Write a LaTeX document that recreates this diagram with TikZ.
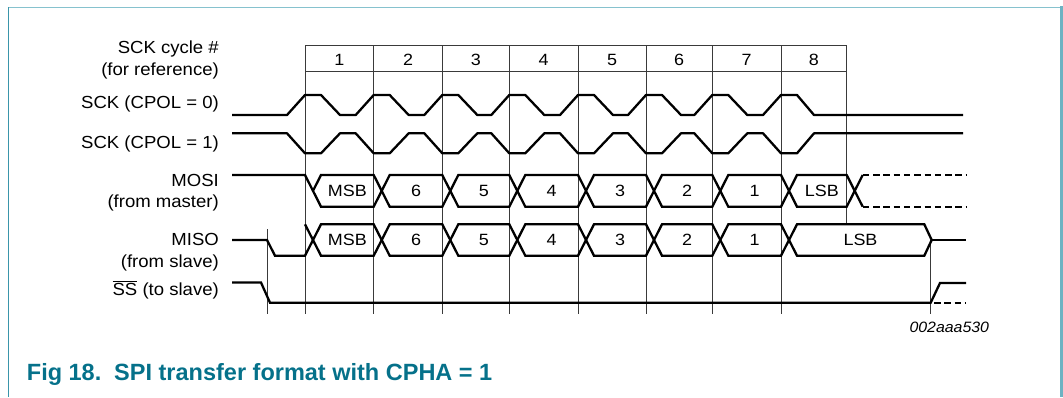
\documentclass[tikz,border=0pt]{standalone}
\usepackage{fontspec}
\setmainfont{Liberation Sans}
\newfontfamily\lblfont{Liberation Sans}[FakeStretch=1.06]
\newfontfamily\busfont{Liberation Sans}[FakeStretch=1.10]
\definecolor{capteal}{HTML}{05718A}
\definecolor{frameteal}{HTML}{3A95AA}
\definecolor{frametop}{HTML}{86C2CE}
\definecolor{frameright}{HTML}{6DB2C2}
\definecolor{gridgray}{HTML}{3A3A3A}
\tikzset{
  sig/.style={line width=2.3pt, black},
  sigdash/.style={line width=2.3pt, black, dash pattern=on 6.5pt off 3.8pt},
  gridline/.style={line width=0.9pt, gridgray},
  lbl/.style={anchor=east, inner sep=0pt, font=\lblfont\fontsize{17.5}{20}\selectfont},
  buslbl/.style={inner sep=0pt, font=\busfont\fontsize{16.3}{19}\selectfont},
}
\begin{document}
\begin{tikzpicture}[x=1pt,y=-1pt]
\useasboundingbox (0,0) rectangle (1063,397);
% frame
\draw[frametop, line width=1pt] (8.5,7.3) -- (1061,7.3);
\draw[frameteal, line width=1.6pt] (8.5,7) -- (8.5,397);
\draw[frameright, line width=2.6pt] (1061.7,6) -- (1061.7,397);
% grid
\foreach \x in {305,373.7,442.3,509.3,578,646,712.3,781}
  \draw[gridline] (\x,45.7) -- (\x,313.5);
\draw[gridline] (846.7,45.7) -- (846.7,224.3);
\draw[gridline] (305,45.7) -- (846.7,45.7);
\draw[gridline] (305,71.7) -- (846.7,71.7);
\draw[gridline] (267.7,229.3) -- (267.7,313.5);
\draw[gridline] (930.7,240) -- (930.7,313.5);
% cycle numbers
\foreach \a/\b/\n in {305/373.7/1,373.7/442.3/2,442.3/509.3/3,509.3/578/4,578/646/5,646/712.3/6,712.3/781/7,781/846.7/8}
  \node[buslbl] (cyc\n) at ({(\a+\b)/2},59.5) {\n};
% labels
\node[lbl] (l1) at (219,49) {SCK cycle \#};
\node[lbl] (l2) at (219,71) {(for reference)};
\node[lbl] (l3) at (219,104) {SCK (CPOL = 0)};
\node[lbl] (l4) at (219,144) {SCK (CPOL = 1)};
\node[lbl] (l5) at (219,180.7) {MOSI};
\node[lbl] (l6) at (219,202.7) {(from master)};
\node[lbl] (l7) at (219,239) {MISO};
\node[lbl] (l8) at (219,262.7) {(from slave)};
\node[lbl] (l9) at (219,290) {$\overline{\mbox{SS}}$ (to slave)};
% SCK CPOL=0
\draw[sig, line join=round] (232,115) -- (287,115) -- (305,95)
  \foreach \a/\b in {305/373.7,373.7/442.3,442.3/509.3,509.3/578,578/646,646/712.3,712.3/781}
  { -- ({\a+16},95) -- ({\a+35},115) -- ({\b-18},115) -- (\b,95) }
  -- (797,95) -- (814,115) -- (963,115);
% SCK CPOL=1
\draw[sig, line join=round] (232,133.3) -- (287,133.3) -- (305,153.3)
  \foreach \a/\b in {305/373.7,373.7/442.3,442.3/509.3,509.3/578,578/646,646/712.3,712.3/781}
  { -- ({\a+16},153.3) -- ({\a+35},133.3) -- ({\b-18},133.3) -- (\b,153.3) }
  -- (797,153.3) -- (814,133.3) -- (963,133.3);
% MOSI
\draw[sig] (232,175) -- (305,175) -- (313,190.85);
\foreach \a/\b/\t in {305/373.7/MSB,373.7/442.3/6,442.3/509.3/5,509.3/578/4,578/646/3,646/712.3/2,712.3/781/1,781/846.7/LSB}{
  \draw[sig] ({\a+8},190.85) -- ({\a+16},175) -- (\b,175) -- ({\b+8},190.85) -- (\b,206.7) -- ({\a+16},206.7) -- cycle;
  \node[buslbl] (mosi\t) at ({(\a+\b)/2+8},191) {\t};
}
\draw[sig] (862.7,175) -- (854.7,190.85) -- (862.7,206.7);
\draw[sigdash] (862.7,175) -- (966,175);
\draw[sigdash] (862.7,206.7) -- (966,206.7);
% MISO
\draw[sig] (232,240) -- (267,240) -- (275,255.7) -- (305,255.7) -- (313,240);
\draw[sig] (305,224.3) -- (313,240);
\foreach \a/\b/\t in {305/373.7/MSB,373.7/442.3/6,442.3/509.3/5,509.3/578/4,578/646/3,646/712.3/2,712.3/781/1}{
  \draw[sig] ({\a+8},240) -- ({\a+16},224.3) -- (\b,224.3) -- ({\b+8},240) -- (\b,255.7) -- ({\a+16},255.7) -- cycle;
  \node[buslbl] (miso\t) at ({(\a+\b)/2+8},240) {\t};
}
\draw[sig] (789,240) -- (797,224.3) -- (924.3,224.3) -- (931.7,240) -- (924.3,255.7) -- (797,255.7) -- cycle;
\node[buslbl] (misoLSB) at (860.5,240) {LSB};
\draw[sig] (931.7,240) -- (966,240);
% SS
\draw[sig] (232,282.5) -- (261,282.5) -- (270,302.7) -- (930.7,302.7) -- (940,283) -- (966,283);
\draw[sigdash] (934,302.7) -- (966,302.7);
% id
\node[inner sep=0pt, font=\lblfont\itshape\fontsize{15}{18}\selectfont] (id) at (949.3,327) {002aaa530};
% caption
\node[anchor=base west, inner sep=0pt, text=capteal, font=\bfseries\fontsize{23.5}{28}\selectfont] (cap) at (26.7,380.7) {Fig 18.\hspace{0.55em}SPI transfer format with CPHA = 1};
\end{tikzpicture}
\end{document}
